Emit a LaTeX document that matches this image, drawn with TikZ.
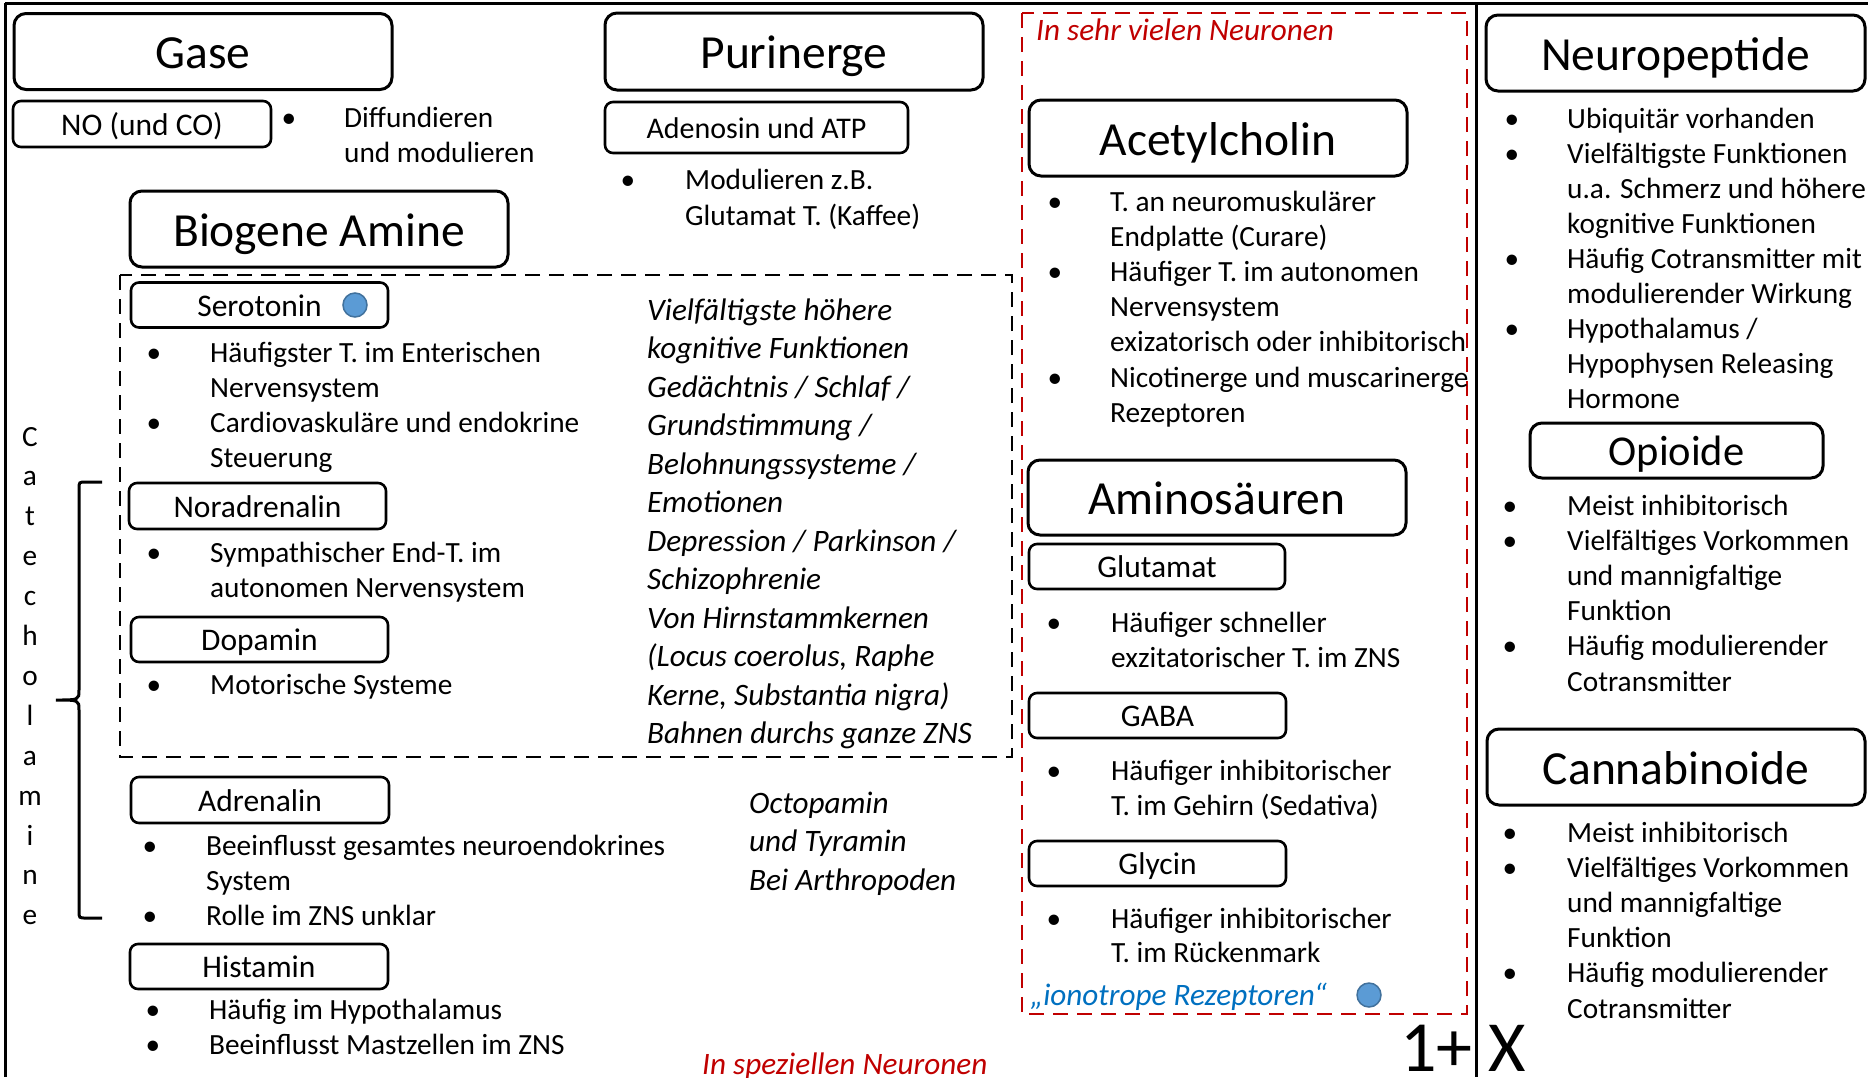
\documentclass[tikz,border=0pt]{standalone}
\usepackage{fontspec}
\setmainfont{Carlito}
\definecolor{pptred}{HTML}{C00000}
\definecolor{pptblue}{HTML}{0070C0}
\definecolor{dotblue}{HTML}{5B9BD5}
\definecolor{dotedge}{HTML}{41719C}
\newcommand\fttitle{\fontsize{47.5}{57}\selectfont}
\newcommand\ftsub{\fontsize{31.5}{38}\selectfont}
\newcommand\ftbody{\fontsize{29.3}{35.2}\selectfont}
\newcommand\ftital{\fontsize{31.2}{38.5}\selectfont\itshape}
\newcommand\ftbig{\fontsize{72}{86}\selectfont}

\begin{document}
\begin{tikzpicture}[
		x=1pt, y=-1pt,
		frame/.style = {line width=3pt},
		bigbox/.style = {draw, rounded corners=12pt, line width=3pt, inner sep=0pt,
			minimum width=378pt, minimum height=76pt, font=\fttitle,
			text height=34.2pt, text depth=0pt},
		subbox/.style = {draw, rounded corners=8pt, line width=2.6pt, inner sep=0pt,
			minimum width=257pt, minimum height=45pt, font=\ftsub,
			text height=22.7pt, text depth=0pt},
		body/.style = {anchor=base west, inner sep=0pt, font=\ftbody},
		bul/.style = {anchor=base, inner sep=0pt, font=\ftbody},
		ital/.style = {anchor=base west, inner sep=0pt, font=\ftital},
		dot/.style = {circle, draw=dotedge, fill=dotblue, line width=1.5pt,
			minimum size=24pt, inner sep=0pt},
		grp/.style = {line width=2.5pt, dash pattern=on 15pt off 9pt}
	]
	\useasboundingbox (0,0) rectangle (1868,1077);
	% frame and divider
	\draw[frame] (5,3) -- (1868,3);
	\draw[frame] (5,3) -- (5,1077);
	\draw[frame] (1476,3) -- (1476,1077);

	% Gase
	\node[bigbox] (gase) at (203,51.5) {Gase};
	\node[subbox, minimum width=258pt, minimum height=46pt] (no) at (142,124) {NO (und CO)};
	\node[bul] (nob) at (289,127) {•};
	\node[body] (no0) at (344,127) {Diffundieren};
	\node[body] (no1) at (344,162) {und modulieren};

	% Purinerge
	\node[bigbox, minimum height=77pt] (purin) at (794,51.5) {Purinerge};
	\node[subbox, minimum width=303pt, minimum height=51pt, font=\fontsize{30}{36}\selectfont,
		text height=21.6pt] (adeno) at (756.5,127.5) {Adenosin und ATP};
	\node[bul] (adenob) at (628,189) {•};
	\node[body] (adeno0) at (685,189) {Modulieren z.B.};
	\node[body] (adeno1) at (685,225) {Glutamat T. (Kaffee)};

	% Biogene Amine
	\node[bigbox] (biog) at (319,229) {Biogene Amine};
	\draw[grp] (120,275) rectangle (1012,757);

	\node[subbox] (sero) at (259.5,305) {Serotonin\hspace{75pt}};
	\node[dot] (serodot) at (355,305) {};
	\foreach \t [count=\i from 0] in {Häufigster T. im Enterischen, Nervensystem,
		Cardiovaskuläre und endokrine, Steuerung}
		\node[body] (sero\i) at (210,{362+35.1*\i}) {\t};
	\foreach \i in {0,2}
		\node[bul] (serob\i) at (154,{362+35.1*\i}) {•};

	\node[subbox, minimum height=46pt] (nora) at (257.5,506) {Noradrenalin};
	\node[bul] (norab) at (154,562) {•};
	\node[body] (nora0) at (210,562) {Sympathischer End-T. im};
	\node[body] (nora1) at (210,597) {autonomen Nervensystem};

	\node[subbox] (dopa) at (259.5,639.5) {Dopamin};
	\node[bul] (dopab) at (154,694) {•};
	\node[body] (dopa0) at (210,694) {Motorische Systeme};

	\foreach \t [count=\i from 0] in {Vielfältigste höhere, kognitive Funktionen,
		Gedächtnis / Schlaf /, Grundstimmung /, Belohnungssysteme /, Emotionen,
		Depression / Parkinson /, Schizophrenie, Von Hirnstammkernen,
		{(Locus coerolus, Raphe}, {Kerne, Substantia nigra)}, Bahnen durchs ganze ZNS}
		\node[ital] (func\i) at (647,{320+38.5*\i}) {\t};

	\node[subbox, minimum width=258pt, minimum height=46pt] (adre) at (260,800) {Adrenalin};
	\foreach \t [count=\i from 0] in {Beeinflusst gesamtes neuroendokrines, System,
		Rolle im ZNS unklar}
		\node[body] (adre\i) at (206,{855+35*\i}) {\t};
	\foreach \i in {0,2}
		\node[bul] (adreb\i) at (150,{855+35*\i}) {•};

	\node[subbox, minimum width=258pt] (hist) at (259,966.5) {Histamin};
	\node[bul] (histb0) at (153,1019) {•};
	\node[bul] (histb1) at (153,1054) {•};
	\node[body] (hist0) at (209,1019) {Häufig im Hypothalamus};
	\node[body] (hist1) at (209,1054) {Beeinflusst Mastzellen im ZNS};

	\node[ital] (octo0) at (749,813) {Octopamin};
	\node[ital] (octo1) at (749,851.5) {und Tyramin};
	\node[ital] (octo2) at (749,890) {Bei Arthropoden};
	\node[ital, text=pptred] (spez) at (702,1074) {In speziellen Neuronen};

	% Catecholamine
	\foreach \c [count=\i from 0] in {C,a,t,e,c,h,o,l,a,m,i,n,e}
		\node[bul] (cat\i) at (30,{446+39.9*\i}) {\c};
	\draw[line width=3pt] (102,482) -- (86,482) .. controls (79,482) .. (79,489)
		-- (79,690) .. controls (79,700) .. (56,700)
		.. controls (79,700) .. (79,710) -- (79,911)
		.. controls (79,918) .. (86,918) -- (102,918);

	% In sehr vielen Neuronen
	\draw[grp, pptred] (1022,13) rectangle (1467,1014);
	\node[ital, text=pptred] (viel) at (1036,40) {In sehr vielen Neuronen};

	\node[bigbox] (acet) at (1218,138) {Acetylcholin};
	\foreach \t [count=\i from 0] in {T. an neuromuskulärer, Endplatte (Curare),
		Häufiger T. im autonomen, Nervensystem, exizatorisch oder inhibitorisch,
		Nicotinerge und muscarinerge, Rezeptoren}
		\node[body] (acet\i) at (1110,{211+35.2*\i}) {\t};
	\foreach \i in {0,2,5}
		\node[bul] (acetb\i) at (1055,{211+35.2*\i}) {•};

	\node[bigbox, minimum height=75pt] (amino) at (1217,497.5) {Aminosäuren};
	\node[subbox, minimum width=256pt] (glut) at (1157,566.5) {Glutamat};
	\node[bul] (glutb) at (1054,632) {•};
	\node[body] (glut0) at (1111,632) {Häufiger schneller};
	\node[body] (glut1) at (1111,667) {exzitatorischer T. im ZNS};

	\node[subbox] (gaba) at (1157.5,715.5) {GABA};
	\node[bul] (gabab) at (1054,780) {•};
	\node[body] (gaba0) at (1111,780) {Häufiger inhibitorischer};
	\node[body] (gaba1) at (1111,815) {T. im Gehirn (Sedativa)};

	\node[subbox] (glyc) at (1157.5,863.5) {Glycin};
	\node[bul] (glycb) at (1054,928) {•};
	\node[body] (glyc0) at (1111,928) {Häufiger inhibitorischer};
	\node[body] (glyc1) at (1111,962) {T. im Rückenmark};

	\node[ital, text=pptblue] (iono) at (1030,1005) {„ionotrope Rezeptoren“};
	\node[dot] (ionodot) at (1369,995) {};

	\node[anchor=base west, inner sep=0pt, font=\ftbig] (onex) at (1400,1071) {1+ X};

	% Neuropeptide
	\node[bigbox, minimum width=379pt] (neuro) at (1675.5,53) {Neuropeptide};
	\foreach \t [count=\i from 0] in {Ubiquitär vorhanden, Vielfältigste Funktionen,
		u.a. Schmerz und höhere, kognitive Funktionen, Häufig Cotransmitter mit,
		modulierender Wirkung, Hypothalamus /, Hypophysen Releasing, Hormone}
		\node[body] (neuro\i) at (1567,{128+35*\i}) {\t};
	\foreach \i in {0,1,4,6}
		\node[bul] (neurob\i) at (1512,{128+35*\i}) {•};

	\node[bigbox, minimum width=293pt, minimum height=55pt, font=\fontsize{42.5}{51}\selectfont,
		text height=30.6pt] (opio) at (1676.5,450.5) {Opioide};
	\foreach \t [count=\i from 0] in {Meist inhibitorisch, Vielfältiges Vorkommen,
		und mannigfaltige, Funktion, Häufig modulierender, Cotransmitter}
		\node[body] (opio\i) at (1567,{515+35.2*\i}) {\t};
	\foreach \i in {0,1,4}
		\node[bul] (opiob\i) at (1510,{515+35.2*\i}) {•};

	\node[bigbox] (canna) at (1676,767) {Cannabinoide};
	\foreach \t [count=\i from 0] in {Meist inhibitorisch, Vielfältiges Vorkommen,
		und mannigfaltige, Funktion, Häufig modulierender, Cotransmitter}
		\node[body] (canna\i) at (1567,{842+35.2*\i}) {\t};
	\foreach \i in {0,1,4}
		\node[bul] (cannab\i) at (1510,{842+35.2*\i}) {•};
\end{tikzpicture}
\end{document}
